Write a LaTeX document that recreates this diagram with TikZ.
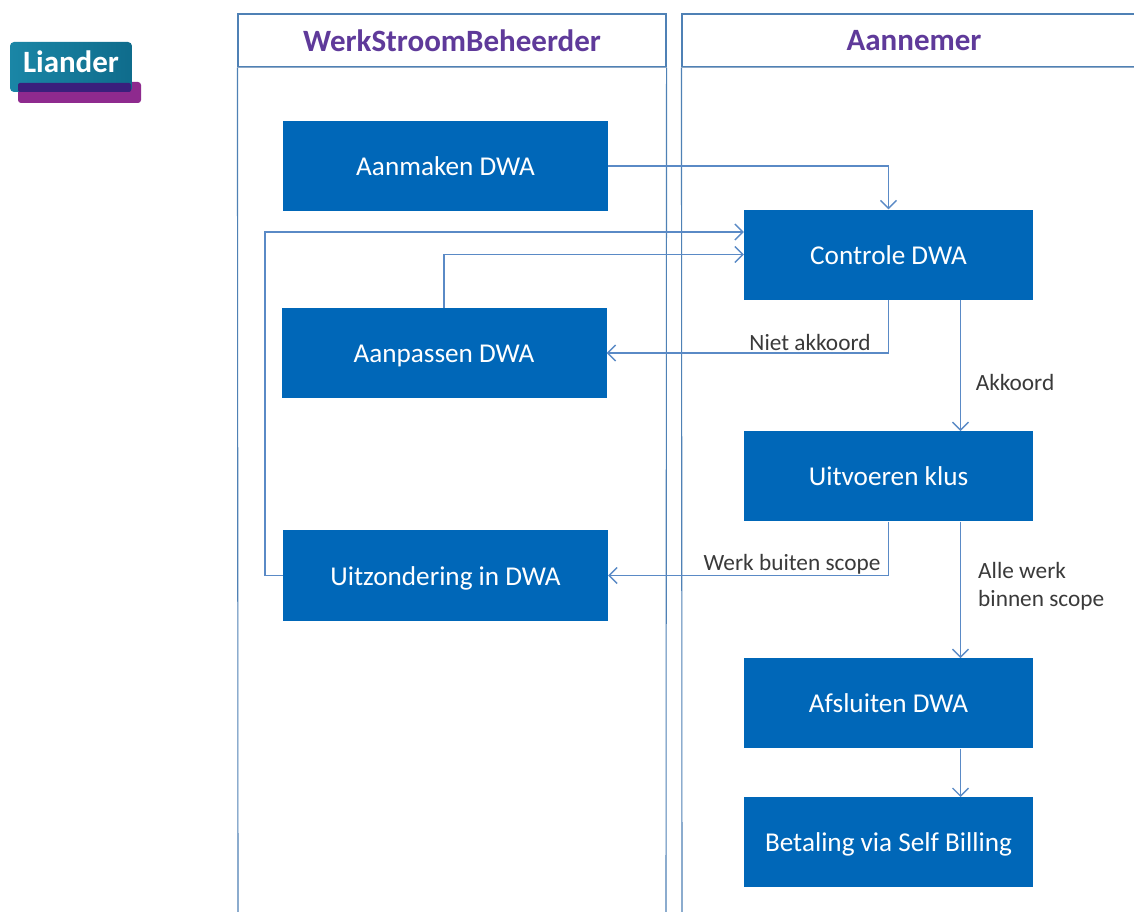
\documentclass[tikz,border=0pt]{standalone}
\usepackage{fontspec}
\setmainfont{Carlito}
\usetikzlibrary{arrows.meta, positioning}
\definecolor{boxblue}{HTML}{0067B8}
\definecolor{lineblue}{HTML}{5A8AC6}
\definecolor{laneblue}{HTML}{4F81B5}
\definecolor{headblue}{HTML}{8FA9C6}
\definecolor{titlepurple}{HTML}{5F3A9A}
\definecolor{labelgrey}{HTML}{3A3A3A}
\definecolor{logoteal}{HTML}{1A86A6}
\definecolor{logodark}{HTML}{0F6C8C}
\definecolor{logopurple}{HTML}{8E2A8E}
\definecolor{logonavy}{HTML}{3A1F7C}
\tikzset{
  >={Straight Barb[length=8pt,width=16pt]},
  every node/.style={inner sep=0pt},
  flowbox/.style={fill=boxblue, text=white, font=\fontsize{27.2}{32}\selectfont, minimum height=90pt, text height=21pt, text depth=2pt},
  leftbox/.style={flowbox, minimum width=325pt},
  rightbox/.style={flowbox, minimum width=289pt},
  lane/.style={draw=laneblue, line width=1.1pt, minimum height=53pt},
  lanetitle/.style={text=titlepurple, font=\fontsize{31}{36}\selectfont\bfseries},
  laneline/.style={draw=laneblue, line width=1.1pt},
  flow/.style={->, draw=lineblue, line width=1.4pt},
  flowlabel/.style={text=labelgrey, font=\fontsize{23.3}{28}\selectfont, align=left}
}

\begin{document}
\begin{tikzpicture}[x=1pt, y=-1pt]
    \useasboundingbox[fill=white] (0,0) rectangle (1134,912);

    % logo
    \fill[rounded corners=3pt, fill=logopurple] (18,82) rectangle (141,103);
    \shade[rounded corners=4pt, left color=logoteal, right color=logodark] (10,42) rectangle (132,92);
    \fill[rounded corners=2pt, fill=logonavy] (18,83) rectangle (131,92);
    \node (logo) [text=white, font=\fontsize{31}{36}\selectfont\bfseries] at (71,62) {Liander};

    % lanes
    \node[lane, minimum width=428pt] (wsb) at (452,40.5) {};
    \node[lanetitle] (wsbtitle) at (452,41) {WerkStroomBeheerder};
    \node[lane, minimum width=470pt] (ann) at (917,40.5) {};
    \node[lanetitle] (anntitle) at (914,41) {Aannemer};
    \coordinate (wsb-end-l) at (238,916);
    \coordinate (wsb-end-r) at (666,916);
    \coordinate (ann-end-l) at (682,916);
    \draw[laneline] (wsb.south west) -- (wsb-end-l);
    \draw[laneline] (wsb.south east) -- (wsb-end-r);
    \draw[laneline] (ann.south west) -- (ann-end-l);
    \draw[headblue, line width=1.1pt] (wsb.south west) -- (wsb.south east);
    \draw[headblue, line width=1.1pt] (ann.south west) -- (ann.south east);

    % boxes
    \node[leftbox] (aanmaken) at (445.5,166) {Aanmaken DWA};
    \node[leftbox] (aanpassen) at (444,353) {Aanpassen DWA};
    \node[leftbox, minimum height=91pt] (uitzondering) at (445.5,575.5) {Uitzondering in DWA};
    \node[rightbox] (controle) at (888.5,254.5) {Controle DWA};
    \node[rightbox] (uitvoeren) [below=131.5pt of controle] {Uitvoeren klus};
    \node[rightbox] (afsluiten) [below=136.5pt of uitvoeren] {Afsluiten DWA};
    \node[rightbox] (betaling) [below=48.5pt of afsluiten] {Betaling via Self Billing};

    \coordinate (bocht) at (265,232);

    % connectors
    \draw[flow] (aanmaken) -| (controle);
    \draw[flow] (aanpassen) |- (controle);
    \draw[flow] (uitzondering) -| (bocht) -- (bocht -| controle.west);
    \draw[flow] (controle) |- (aanpassen);
    \draw[flow] (uitvoeren) |- (uitzondering);
    \draw[flow] ([xshift=72pt]controle.south) -- ([xshift=72pt]uitvoeren.north);
    \draw[flow] ([xshift=72pt]uitvoeren.south) -- ([xshift=72pt]afsluiten.north);
    \draw[flow] ([xshift=72pt]afsluiten.south) -- ([xshift=72pt]betaling.north);

    % labels
    \node[flowlabel] (nietakkoord) at (810,342.5) {Niet akkoord};
    \node[flowlabel] (akkoord) at (1015,382.5) {Akkoord};
    \node[flowlabel] (buitenscope) at (792,564) {Werk buiten scope};
    \node[flowlabel, anchor=west] (binnenscope) at (978,586) {Alle werk\\[0pt]binnen scope};
\end{tikzpicture}
\end{document}
